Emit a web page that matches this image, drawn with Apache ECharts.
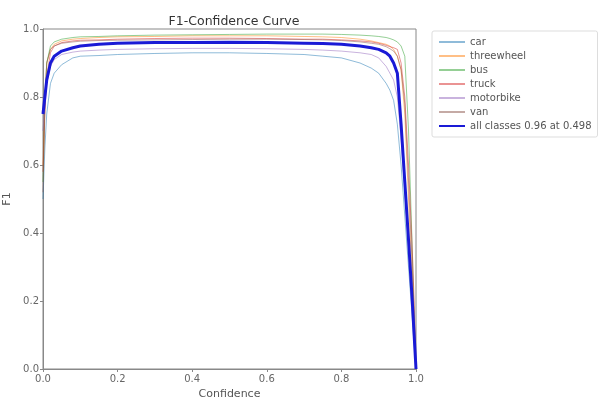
<!DOCTYPE html>
<html>
<head>
<meta charset="utf-8">
<script src="https://cdn.jsdelivr.net/npm/echarts@6/dist/echarts.min.js"></script>
<style>
  html, body { margin: 0; padding: 0; background: #fff; }
  #chart { width: 598px; height: 397px; }
</style>
</head>
<body>
<div id="chart"></div>
<script>
// Confidence thresholds shared by every curve
const confidence = [0, 0.005, 0.01, 0.02, 0.03, 0.05, 0.08, 0.1, 0.15, 0.2, 0.3, 0.4, 0.5, 0.6, 0.7, 0.75, 0.8, 0.85, 0.88, 0.9, 0.92, 0.93, 0.94, 0.95, 0.96, 0.97, 0.98, 0.99, 0.995, 1.0];

// Per-class F1 values at each threshold
const f1Car        = [0.50, 0.65, 0.75, 0.84, 0.87, 0.895, 0.915, 0.92, 0.922, 0.925, 0.928, 0.93, 0.93, 0.928, 0.925, 0.92, 0.915, 0.90, 0.885, 0.87, 0.84, 0.82, 0.79, 0.72, 0.60, 0.45, 0.30, 0.15, 0.07, 0.0];
const f1Threewheel = [0.60, 0.80, 0.90, 0.94, 0.955, 0.965, 0.97, 0.972, 0.975, 0.977, 0.978, 0.98, 0.98, 0.98, 0.978, 0.977, 0.975, 0.97, 0.965, 0.96, 0.955, 0.95, 0.94, 0.92, 0.88, 0.75, 0.50, 0.25, 0.12, 0.0];
const f1Bus        = [0.55, 0.78, 0.90, 0.95, 0.962, 0.97, 0.975, 0.977, 0.978, 0.98, 0.982, 0.983, 0.984, 0.985, 0.985, 0.985, 0.984, 0.982, 0.98, 0.978, 0.975, 0.972, 0.968, 0.962, 0.95, 0.92, 0.70, 0.35, 0.15, 0.0];
const f1Truck      = [0.58, 0.75, 0.86, 0.93, 0.95, 0.96, 0.965, 0.967, 0.968, 0.97, 0.972, 0.973, 0.973, 0.972, 0.97, 0.97, 0.968, 0.965, 0.962, 0.958, 0.952, 0.948, 0.945, 0.94, 0.90, 0.80, 0.60, 0.35, 0.20, 0.0];
const f1Motorbike  = [0.70, 0.78, 0.84, 0.89, 0.91, 0.925, 0.932, 0.935, 0.938, 0.94, 0.942, 0.943, 0.943, 0.942, 0.94, 0.938, 0.935, 0.93, 0.925, 0.915, 0.89, 0.87, 0.85, 0.80, 0.68, 0.52, 0.36, 0.18, 0.09, 0.0];
const f1Van        = [0.52, 0.78, 0.90, 0.94, 0.95, 0.958, 0.962, 0.964, 0.966, 0.967, 0.968, 0.969, 0.97, 0.97, 0.969, 0.968, 0.966, 0.962, 0.958, 0.955, 0.948, 0.942, 0.935, 0.92, 0.88, 0.78, 0.55, 0.30, 0.15, 0.0];
const f1All        = [0.75, 0.80, 0.85, 0.90, 0.92, 0.935, 0.945, 0.95, 0.955, 0.958, 0.960, 0.960, 0.961, 0.960, 0.958, 0.957, 0.955, 0.950, 0.945, 0.940, 0.930, 0.920, 0.900, 0.870, 0.720, 0.550, 0.380, 0.200, 0.100, 0.0];

const classNames = ['car', 'threewheel', 'bus', 'truck', 'motorbike', 'van'];
const classValues = [f1Car, f1Threewheel, f1Bus, f1Truck, f1Motorbike, f1Van];
const classColors = ['#1f77b4', '#ff7f0e', '#2ca02c', '#d62728', '#9467bd', '#8c564b'];
const allName = 'all classes 0.96 at 0.498';

const axisTicks = [0, 0.2, 0.4, 0.6, 0.8, 1.0];

function pairs(ys) {
  return confidence.map((c, i) => [c, ys[i]]);
}

const series = classNames.map((name, k) => ({
  name: name,
  type: 'line',
  data: pairs(classValues[k]),
  symbol: 'none',
  legendIcon: 'none',
  lineStyle: { width: 1, color: classColors[k], opacity: 0.5 },
  itemStyle: { color: classColors[k] },
  z: 2
}));
series.push({
  name: allName,
  type: 'line',
  data: pairs(f1All),
  symbol: 'none',
  legendIcon: 'none',
  lineStyle: { width: 3, color: '#1a1ad6' },
  itemStyle: { color: '#1a1ad6' },
  z: 3
});

const tickFmt = v => axisTicks.includes(Math.round(v * 10) / 10) ? v.toFixed(1) : '';

const chart = echarts.init(document.getElementById('chart'), null, { renderer: 'canvas' });
chart.setOption({
  animation: false,
  backgroundColor: '#fff',
  title: {
    text: 'F1-Confidence Curve',
    left: 229, top: 10, textAlign: 'center',
    textStyle: { fontFamily: 'DejaVu Sans', fontSize: 12.5, fontWeight: 'normal', color: '#333' }
  },
  grid: {
    left: 43, right: 182, top: 29, bottom: 28,
    outerBoundsMode: 'none', containLabel: false,
    show: true, borderColor: '#888', borderWidth: 1
  },
  legend: {
    orient: 'vertical',
    left: 432, top: 31,
    itemWidth: 26, itemHeight: 10, itemGap: 4,
    padding: [6, 6, 6, 6],
    borderColor: '#ddd', borderWidth: 1, borderRadius: 2,
    itemStyle: { opacity: 0 },
    textStyle: { fontFamily: 'DejaVu Sans', fontSize: 10, color: '#555' },
    data: classNames.concat([allName])
  },
  xAxis: {
    type: 'value', min: 0, max: 1, interval: 0.2,
    name: 'Confidence', nameLocation: 'middle', nameGap: 18,
    nameTextStyle: { fontFamily: 'DejaVu Sans', fontSize: 11, color: '#555' },
    axisLine: { show: true, lineStyle: { color: '#888' } },
    axisTick: { show: true, length: 3, lineStyle: { color: '#888' } },
    axisLabel: { fontFamily: 'DejaVu Sans', fontSize: 10, color: '#666', margin: 5, formatter: tickFmt },
    splitLine: { show: false }
  },
  yAxis: {
    type: 'value', min: 0, max: 1, interval: 0.2,
    name: 'F1', nameLocation: 'middle', nameGap: 27,
    nameTextStyle: { fontFamily: 'DejaVu Sans', fontSize: 11, color: '#555' },
    axisLine: { show: true, lineStyle: { color: '#888' } },
    axisTick: { show: true, length: 3, lineStyle: { color: '#888' } },
    axisLabel: { fontFamily: 'DejaVu Sans', fontSize: 10, color: '#666', margin: 4, formatter: tickFmt },
    splitLine: { show: false }
  },
  series: series
});
</script>
</body>
</html>
